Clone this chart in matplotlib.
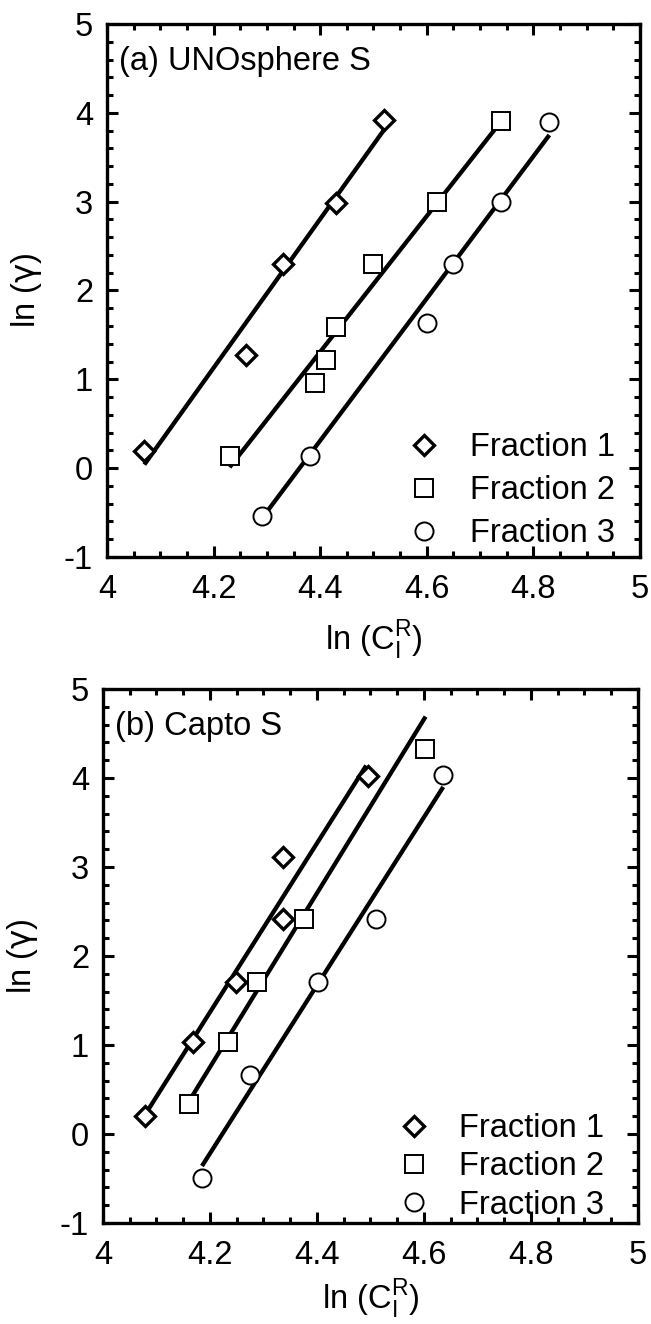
import matplotlib.pyplot as plt
from matplotlib.ticker import MultipleLocator

plt.rcParams['font.family'] = ['Liberation Sans', 'DejaVu Sans']
plt.rcParams['mathtext.fontset'] = 'custom'
plt.rcParams['mathtext.rm'] = 'Liberation Sans'
plt.rcParams['mathtext.sf'] = 'DejaVu Sans'
plt.rcParams['axes.unicode_minus'] = False

# (a) UNOsphere S
a_f1_x = [4.07, 4.26, 4.33, 4.43, 4.52]
a_f1_y = [0.19, 1.27, 2.30, 2.99, 3.92]
a_f2_x = [4.23, 4.39, 4.41, 4.43, 4.50, 4.62, 4.74]
a_f2_y = [0.14, 0.96, 1.22, 1.59, 2.30, 3.00, 3.91]
a_f3_x = [4.29, 4.38, 4.60, 4.65, 4.74, 4.83]
a_f3_y = [-0.54, 0.14, 1.63, 2.30, 3.00, 3.90]
a_fit1_x, a_fit1_y = [4.07, 4.52], [0.04, 3.81]
a_fit2_x, a_fit2_y = [4.23, 4.739], [0.01, 3.90]
a_fit3_x, a_fit3_y = [4.29, 4.83], [-0.57, 3.75]

# (b) Capto S
b_f1_x = [4.079, 4.169, 4.249, 4.336, 4.336, 4.495]
b_f1_y = [0.20, 1.03, 1.71, 2.42, 3.11, 4.02]
b_f2_x = [4.161, 4.233, 4.287, 4.375, 4.602]
b_f2_y = [0.34, 1.03, 1.71, 2.42, 4.33]
b_f3_x = [4.185, 4.274, 4.402, 4.51, 4.636]
b_f3_y = [-0.49, 0.66, 1.71, 2.42, 4.03]
b_fit1_x, b_fit1_y = [4.079, 4.492], [0.22, 4.14]
b_fit2_x, b_fit2_y = [4.161, 4.603], [0.37, 4.69]
b_fit3_x, b_fit3_y = [4.185, 4.636], [-0.36, 3.90]

labels = ['Fraction 1', 'Fraction 2', 'Fraction 3']
xticks = [4, 4.2, 4.4, 4.6, 4.8, 5]
xticklabels = ['4', '4.2', '4.4', '4.6', '4.8', '5']
yticks = [-1, 0, 1, 2, 3, 4, 5]

FS = 23.5


def draw_panel(ax, series, fits, title, leg_anchor, leg_spacing, xpad):
  """
  Scatter the three fractions with their fitted lines and style the axes
  """
  markers = [dict(marker='D', ms=10, mew=2.4), dict(marker='s', ms=13.5, mew=1.4),
             dict(marker='o', ms=13, mew=1.4)]
  for (fx, fy), lab, mk in zip(series, labels, markers):
    ax.plot(fx, fy, ls='none', mfc='white', mec='black', label=lab, zorder=3, **mk)
  for lx, ly in fits:
    ax.plot(lx, ly, color='black', lw=3.1, solid_capstyle='butt', zorder=2)
  ax.set_xlim(4, 5)
  ax.set_ylim(-1, 5)
  ax.set_xticks(xticks)
  ax.set_xticklabels(xticklabels)
  ax.set_yticks(yticks)
  ax.xaxis.set_minor_locator(MultipleLocator(0.05))
  ax.yaxis.set_minor_locator(MultipleLocator(0.2))
  ax.tick_params(which='both', direction='in', top=True, right=True, width=2.2,
                 labelsize=FS)
  ax.tick_params(axis='x', pad=12)
  ax.tick_params(axis='y', pad=10)
  ax.tick_params(which='major', length=8)
  ax.tick_params(which='minor', length=4.5)
  for s in ax.spines.values():
    s.set_linewidth(2.4)
  ax.set_xlabel(r'ln (C$_\mathregular{I}^\mathregular{R}$)', fontsize=FS, labelpad=xpad)
  ax.set_ylabel(r'ln ($\mathsf{\gamma}$)', fontsize=FS, labelpad=14)
  ax.text(0.022, 0.93, title, transform=ax.transAxes, fontsize=FS, va='center')
  ax.legend(loc='lower right', bbox_to_anchor=leg_anchor, frameon=False, fontsize=FS,
            handlelength=1.0, handletextpad=0.9, labelspacing=leg_spacing, borderaxespad=0)


fig = plt.figure(figsize=(6.51, 13.24), dpi=100)
ax1 = fig.add_axes([0.1644, 0.5793, 0.8186, 0.4026])
ax2 = fig.add_axes([0.1582, 0.0763, 0.8218, 0.4033])

draw_panel(ax1, [(a_f1_x, a_f1_y), (a_f2_x, a_f2_y), (a_f3_x, a_f3_y)],
           [(a_fit1_x, a_fit1_y), (a_fit2_x, a_fit2_y), (a_fit3_x, a_fit3_y)],
           '(a) UNOsphere S', (0.978, -0.01), 0.37, 9)
draw_panel(ax2, [(b_f1_x, b_f1_y), (b_f2_x, b_f2_y), (b_f3_x, b_f3_y)],
           [(b_fit1_x, b_fit1_y), (b_fit2_x, b_fit2_y), (b_fit3_x, b_fit3_y)],
           '(b) Capto S', (0.962, -0.02), 0.22, 4)

fig.savefig('out.png', dpi=100)
